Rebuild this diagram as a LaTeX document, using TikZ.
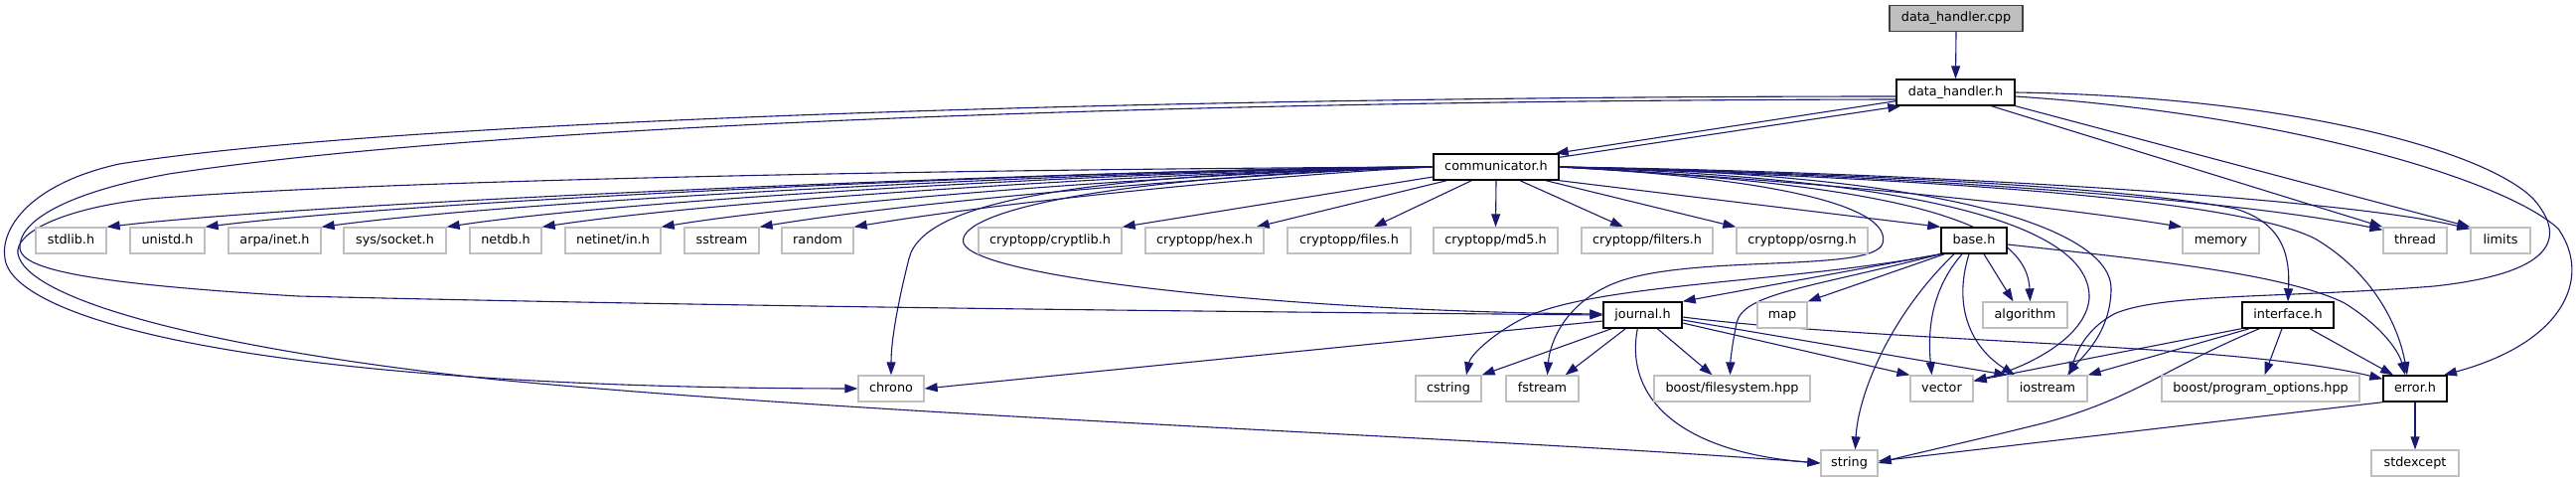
\documentclass[tikz,border=0pt]{standalone}
\usepackage{fontspec}
\setmainfont{DejaVu Sans}
\usetikzlibrary{arrows.meta}
\definecolor{edgec}{HTML}{191970}
\definecolor{gb}{HTML}{BFBFBF}
\pgfdeclarelayer{bgfill}
\pgfdeclarelayer{edges}
\pgfsetlayers{bgfill,edges,main}
\begin{document}
\begin{tikzpicture}[x=1pt,y=-1pt,
  box/.style={rectangle, minimum height=26pt, inner sep=0pt, text height=9.5pt, text depth=2.6pt, font=\fontsize{12.8pt}{15pt}\selectfont, fill=white},
  doc/.style={box, draw=black, line width=1.4pt},
  ext/.style={box, draw=gb, line width=1.3pt},
  root/.style={box, draw=black!75, fill=gb, line width=1.4pt},
  e/.style={draw=edgec, line width=1.1pt, -{Triangle[length=13pt,width=9pt]}}]
\begin{pgfonlayer}{bgfill}
\fill[white] (0,0) rectangle (2593,485);
\end{pgfonlayer}
\useasboundingbox (0,0) rectangle (2593,485);
% row 0-2
\node[root, minimum width=134pt] (dhcpp) at (1969,18.5) {data\_handler.cpp};
\node[doc, minimum width=119pt] (dhh) at (1968.5,93) {data\_handler.h};
\node[doc, minimum width=126pt] (comm) at (1506,168) {communicator.h};
% row 3
\node[ext, minimum width=71pt] (stdlib) at (71.5,242) {stdlib.h};
\node[ext, minimum width=75pt] (unistd) at (168.5,242) {unistd.h};
\node[ext, minimum width=93pt] (arpa) at (276.5,242) {arpa/inet.h};
\node[ext, minimum width=103pt] (syssock) at (397.5,242) {sys/socket.h};
\node[ext, minimum width=72pt] (netdb) at (509,242) {netdb.h};
\node[ext, minimum width=96pt] (netinet) at (617,242) {netinet/in.h};
\node[ext, minimum width=75pt] (sstream) at (726.5,242) {sstream};
\node[ext, minimum width=72pt] (random) at (823,242) {random};
\node[ext, minimum width=144pt] (cryptlib) at (1057,242) {cryptopp/cryptlib.h};
\node[ext, minimum width=119pt] (hex) at (1212.5,242) {cryptopp/hex.h};
\node[ext, minimum width=124pt] (files) at (1358,242) {cryptopp/files.h};
\node[ext, minimum width=125pt] (md5) at (1505.5,242) {cryptopp/md5.h};
\node[ext, minimum width=132pt] (filters) at (1658,242) {cryptopp/filters.h};
\node[ext, minimum width=132pt] (osrng) at (1814,242) {cryptopp/osrng.h};
\node[doc, minimum width=66pt] (base) at (1987,242) {base.h};
\node[ext, minimum width=77pt] (memory) at (2235.5,242) {memory};
\node[ext, minimum width=64pt] (thread) at (2431,242) {thread};
\node[ext, minimum width=60pt] (limits) at (2517,242) {limits};
% row 4
\node[doc, minimum width=79pt] (journal) at (1653.5,317) {journal.h};
\node[ext, minimum width=50pt] (map) at (1794,317) {map};
\node[ext, minimum width=85pt] (algorithm) at (2038.5,317) {algorithm};
\node[doc, minimum width=92pt] (interface) at (2303,317) {interface.h};
% row 5
\node[ext, minimum width=66pt] (chrono) at (897,391) {chrono};
\node[ext, minimum width=66pt] (cstring) at (1458,391) {cstring};
\node[ext, minimum width=73pt] (fstream) at (1552.5,391) {fstream};
\node[ext, minimum width=157pt] (bfs) at (1743.5,391) {boost/filesystem.hpp};
\node[ext, minimum width=63pt] (vector) at (1954.5,391) {vector};
\node[ext, minimum width=80pt] (iostream) at (2061,391) {iostream};
\node[ext, minimum width=199pt] (bpo) at (2275.5,391) {boost/program\_options.hpp};
\node[doc, minimum width=64pt] (error) at (2431,391) {error.h};
% row 6
\node[ext, minimum width=57pt] (string) at (1861.5,466) {string};
\node[ext, minimum width=88pt] (stdexcept) at (2431,466) {stdexcept};

\begin{pgfonlayer}{edges}
\draw[e] (dhcpp.south) -- (dhh.north);
% data_handler.h <-> communicator.h
\draw[e] ([yshift=5pt]dhh.south west) -- ([xshift=-4pt]comm.north east);
\draw[e] ([yshift=-4pt]comm.north east) -- ([xshift=5pt]dhh.south west);
% data_handler.h right side
\draw[e] ([xshift=36pt]dhh.south) -- (thread.north west);
\draw[e] (dhh.south east) -- (limits.north west);
\draw[e] (dhh.east) .. controls (2300,97) and (2500,150) .. (2550,200)
  .. controls (2585,240) and (2570,275) .. (2450,288)
  .. controls (2300,300) and (2180,295) .. (2130,315)
  .. controls (2100,330) and (2090,355) .. ([xshift=22pt]iostream.north);
\draw[e] ([yshift=-4pt]dhh.east) .. controls (2300,115) and (2520,180) .. (2575,230)
  .. controls (2610,280) and (2580,345) .. ([xshift=29pt]error.north);
% data_handler.h far-left loops
\draw[e] ([yshift=-4pt]dhh.west) .. controls (1200,97) and (400,120) .. (120,165)
  .. controls (30,185) and (0,230) .. (5,260)
  .. controls (12,320) and (250,390) .. (chrono.west);
\draw[e] ([yshift=-7pt]dhh.west) .. controls (1200,101) and (500,125) .. (170,175)
  .. controls (60,195) and (18,225) .. (20,250)
  .. controls (22,270) and (80,285) .. (300,298)
  .. controls (800,310) and (1300,314) .. (journal.west);
% communicator.h left fan
\draw[e] (comm.west) .. controls (1000,170) and (400,180) .. (150,200)
  .. controls (60,210) and (15,235) .. (18,255)
  .. controls (25,300) and (200,350) .. (500,382)
  .. controls (900,420) and (1500,440) .. (string.west);
\draw[e] (comm.west) .. controls (1200,168) and (350,200) .. (stdlib.north east);
\draw[e] (comm.west) .. controls (1200,168) and (450,198) .. (unistd.north east);
\draw[e] (comm.west) .. controls (1200,169) and (550,198) .. (arpa.north east);
\draw[e] (comm.west) .. controls (1200,170) and (650,198) .. (syssock.north east);
\draw[e] (comm.west) .. controls (1220,171) and (740,199) .. (netdb.north east);
\draw[e] (comm.west) .. controls (1240,172) and (840,200) .. (netinet.north east);
\draw[e] (comm.west) .. controls (1260,174) and (930,201) .. (sstream.north east);
\draw[e] (comm.west) .. controls (1280,176) and (1010,203) .. (random.north east);
\draw[e] (comm.west) .. controls (1100,175) and (930,200) .. (915,260)
  .. controls (905,300) and (897,340) .. (chrono.north);
\draw[e] (comm.west) .. controls (1100,178) and (960,215) .. (970,245)
  .. controls (985,280) and (1300,313) .. ([yshift=1pt]journal.west);
% communicator.h bottom fan
\draw[e] ([yshift=-10pt]comm.west) -- (cryptlib.north east);
\draw[e] ([xshift=14pt]comm.south west) -- ([xshift=-8pt]hex.north east);
\draw[e] ([xshift=39pt]comm.south west) -- ([xshift=-38pt]files.north east);
\draw[e] (comm.south) -- (md5.north);
\draw[e] ([xshift=24pt]comm.south) -- ([xshift=-24pt]filters.north);
\draw[e] ([xshift=50pt]comm.south) -- (osrng.north west);
\draw[e] (comm.south east) -- (base.north west);
% communicator.h right fan
\draw[e] (comm.east) .. controls (1800,180) and (2050,205) .. (memory.north west);
\draw[e] (comm.east) .. controls (1900,175) and (2250,200) .. ([yshift=-3pt]thread.north west);
\draw[e] (comm.east) .. controls (1900,172) and (2350,198) .. ([yshift=-2pt]limits.north west);
\draw[e] (comm.east) .. controls (1900,175) and (2150,190) .. (2250,210)
  .. controls (2300,225) and (2305,260) .. (interface.north);
\draw[e] (comm.east) .. controls (1950,180) and (2250,200) .. (2330,240)
  .. controls (2390,275) and (2415,330) .. ([xshift=-8pt]error.north);
\draw[e] (comm.east) .. controls (1900,185) and (2040,220) .. ([xshift=5pt]algorithm.north);
\draw[e] (comm.east) .. controls (1950,180) and (2105,230) .. (2103,300)
  .. controls (2100,340) and (2040,370) .. ([yshift=-6pt]vector.north east);
\draw[e] (comm.east) .. controls (2000,175) and (2125,240) .. (2125,290)
  .. controls (2125,335) and (2095,360) .. ([xshift=20pt]iostream.north);
\draw[e] (comm.east) .. controls (1800,180) and (1905,210) .. (1895,245)
  .. controls (1885,275) and (1700,255) .. (1625,285)
  .. controls (1575,305) and (1560,345) .. ([xshift=5pt]fstream.north);
% base.h
\draw[e] (base.south west) -- (journal.north east);
\draw[e] ([xshift=4pt]base.south west) -- (map.north east);
\draw[e] (base.south west) .. controls (1800,285) and (1600,285) .. (1530,322)
  .. controls (1500,338) and (1480,358) .. ([xshift=18pt]cstring.north);
\draw[e] (base.south west) .. controls (1820,290) and (1755,295) .. (1748,325)
  .. controls (1744,345) and (1742,360) .. ([xshift=-2pt]bfs.north);
\draw[e] ([xshift=10pt]base.south) -- ([xshift=-12pt]algorithm.north);
\draw[e] ([xshift=-12pt]base.south) .. controls (1945,290) and (1940,330) .. ([xshift=-10pt]vector.north);
\draw[e] ([xshift=-5pt]base.south) .. controls (1965,310) and (1985,350) .. ([xshift=-33pt]iostream.north);
\draw[e] ([xshift=-20pt]base.south) .. controls (1900,320) and (1870,400) .. ([xshift=6pt]string.north);
\draw[e] ([yshift=-4pt]base.east) .. controls (2150,260) and (2300,275) .. (2360,305)
  .. controls (2400,330) and (2415,355) .. ([xshift=-10pt]error.north);
% journal.h
\draw[e] ([xshift=9pt]journal.south west) -- (cstring.north east);
\draw[e] ([xshift=23pt]journal.south west) -- ([xshift=-14pt]fstream.north east);
\draw[e] ([xshift=55pt]journal.south west) -- ([xshift=-20pt]bfs.north);
\draw[e] ([xshift=35pt]journal.south west) .. controls (1635,400) and (1690,455) .. (string.west);
\draw[e] ([yshift=-8pt]journal.east) -- (vector.north west);
\draw[e] ([yshift=-5pt]journal.east) -- (iostream.north west);
\draw[e] ([yshift=-2pt]journal.east) .. controls (1900,345) and (2250,345) .. ([yshift=-4pt]error.north west);
\draw[e] ([yshift=-6pt]journal.west) -- (chrono.east);
% interface.h
\draw[e] (interface.south west) -- ([yshift=-6pt]vector.north east);
\draw[e] ([xshift=8pt]interface.south west) -- (iostream.north east);
\draw[e] ([xshift=18pt]interface.south west) .. controls (2180,370) and (2150,400) .. (2060,425)
  .. controls (1980,445) and (1920,458) .. (string.east);
\draw[e] ([xshift=-6pt]interface.south) -- ([xshift=4pt]bpo.north);
\draw[e] ([xshift=22pt]interface.south) -- ([xshift=-22pt]error.north);
% error.h
\draw[e] (error.south west) -- ([yshift=2pt]string.east);
\draw[e] (error.south) -- (stdexcept.north);
\end{pgfonlayer}
\end{tikzpicture}
\end{document}
